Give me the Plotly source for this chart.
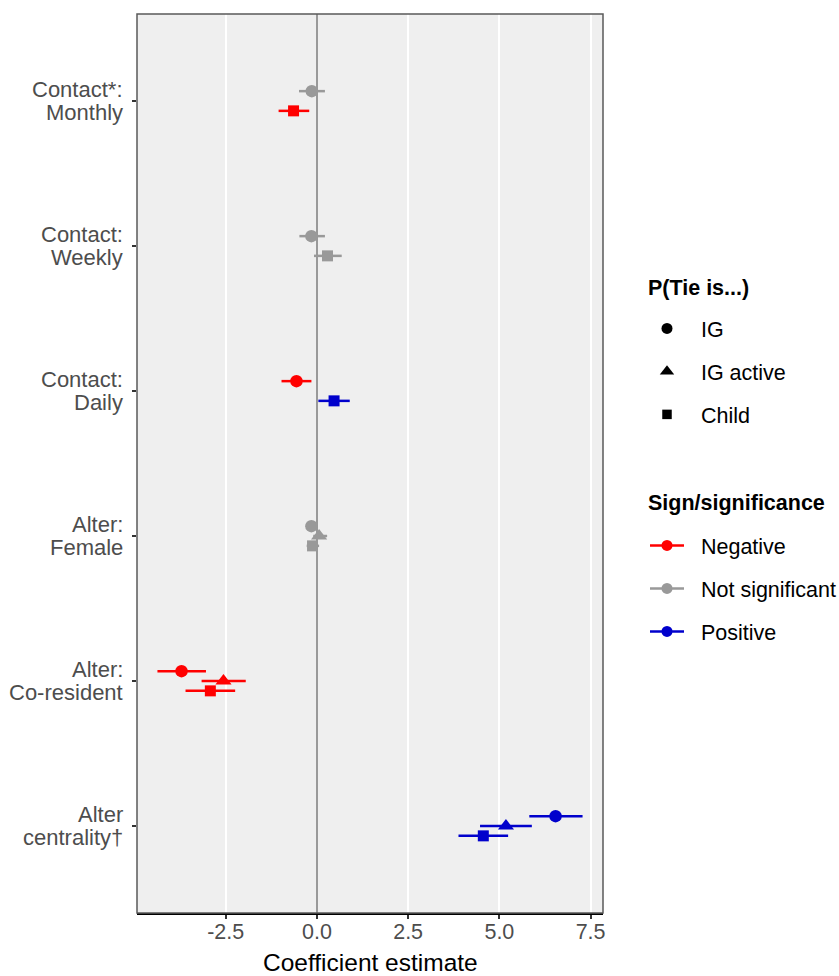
import plotly.graph_objects as go

# ---------------- data ----------------
categories = [["Contact*:", "Monthly"], ["Contact:", "Weekly"], ["Contact:", "Daily"],
              ["Alter:", "Female"], ["Alter:", "Co-resident"], ["Alter", "centrality†"]]

ig_est = [-0.14, -0.15, -0.56, -0.15, -3.71, 6.54]
ig_lo = [-0.49, -0.48, -0.97, -0.30, -4.37, 5.82]
ig_hi = [0.22, 0.22, -0.15, 0.03, -3.04, 7.28]
ig_sign = ["Not significant", "Not significant", "Negative", "Not significant", "Negative", "Positive"]

act_est = [None, None, None, 0.06, -2.56, 5.18]
act_lo = [None, None, None, -0.10, -3.16, 4.47]
act_hi = [None, None, None, 0.28, -1.95, 5.89]
act_sign = [None, None, None, "Not significant", "Negative", "Positive"]

child_est = [-0.64, 0.29, 0.47, -0.12, -2.92, 4.56]
child_lo = [-1.05, -0.08, 0.04, -0.28, -3.60, 3.88]
child_hi = [-0.21, 0.68, 0.90, 0.06, -2.24, 5.24]
child_sign = ["Negative", "Not significant", "Positive", "Not significant", "Negative", "Positive"]

outcomes = ["IG", "IG active", "Child"]
signs = ["Negative", "Not significant", "Positive"]
x_ticks = [-2.5, 0.0, 2.5, 5.0, 7.5]
x_ticktext = ["-2.5", "0.0", "2.5", "5.0", "7.5"]
x_title = "Coefficient estimate"
legend1_title = "P(Tie is...)"
legend2_title = "Sign/significance"

# ---------------- styles ----------------
FONT = "Liberation Sans, Arial, Helvetica, sans-serif"
FS = 21.5
NB = "\u00a0\u00a0"
sign_color = {"Negative": "#FF0000", "Not significant": "#999999", "Positive": "#0000CC"}
symbol = {"IG": "circle", "IG active": "triangle-up", "Child": "square"}
msize = {"IG": 12.5, "IG active": 14, "Child": 11}
dodge = {"IG": -0.068, "IG active": 0.0, "Child": 0.068}

series = {
    "IG": (ig_est, ig_lo, ig_hi, ig_sign),
    "IG active": (act_est, act_lo, act_hi, act_sign),
    "Child": (child_est, child_lo, child_hi, child_sign),
}

fig = go.Figure()

for oc in outcomes:
    est, lo, hi, sg = series[oc]
    for s in signs:
        xs, ys, ep, em = [], [], [], []
        for i in range(len(categories)):
            if est[i] is None or sg[i] != s:
                continue
            xs.append(est[i])
            ys.append(i + dodge[oc])
            ep.append(hi[i] - est[i])
            em.append(est[i] - lo[i])
        if not xs:
            continue
        fig.add_trace(go.Scatter(
            x=xs, y=ys, mode="markers",
            marker=dict(symbol=symbol[oc], size=msize[oc], color=sign_color[s],
                        line=dict(width=0)),
            error_x=dict(type="data", symmetric=False, array=ep, arrayminus=em,
                         color=sign_color[s], thickness=2.5, width=0),
            showlegend=False, hoverinfo="x+y",
        ))

# legend 1: shapes
for k, oc in enumerate(outcomes):
    fig.add_trace(go.Scatter(
        x=[None], y=[None], mode="markers", name=NB + oc,
        marker=dict(symbol=symbol[oc], size=msize[oc] - 1.5, color="black"),
        legend="legend", legendgroup="a%d" % k, showlegend=True,
    ))
# legend 2: colours
for k, s in enumerate(signs):
    fig.add_trace(go.Scatter(
        x=[None], y=[None], mode="lines+markers", name=NB + s,
        marker=dict(symbol="circle", size=11, color=sign_color[s]),
        line=dict(color=sign_color[s], width=2.5),
        legend="legend2", legendgroup="b%d" % k, showlegend=True,
    ))

# panel border
fig.add_shape(type="rect", xref="x domain", yref="y domain", x0=0, x1=1, y0=0, y1=1,
              line=dict(color="#5a5a5a", width=1.5), fillcolor="rgba(0,0,0,0)", layer="above")

# y category labels (two lines each, right aligned)
for i, (l1, l2) in enumerate(categories):
    for line, shift in ((l1, 11.5), (l2, -11.5)):
        fig.add_annotation(x=0, xref="paper", y=i, yref="y", text=line, showarrow=False,
                           xanchor="right", yanchor="middle", xshift=-12, yshift=shift,
                           font=dict(family=FONT, size=22, color="#4D4D4D"))

# x-axis title
fig.add_annotation(x=0.5, xref="paper", y=0, yref="paper", text=x_title, showarrow=False,
                   xanchor="center", yanchor="middle", yshift=-49,
                   font=dict(family=FONT, size=24.5, color="black"))

# legend titles
PX = 1.0 / 466.0
PY = 1.0 / 899.0
fig.add_annotation(x=1 + (646 - 603) * PX, xref="paper", y=1 - (288 - 14) * PY, yref="paper",
                   text="<b>%s</b>" % legend1_title, showarrow=False,
                   xanchor="left", yanchor="middle",
                   font=dict(family=FONT, size=FS, color="black"))
fig.add_annotation(x=1 + (646 - 603) * PX, xref="paper", y=1 - (503 - 14) * PY, yref="paper",
                   text="<b>%s</b>" % legend2_title, showarrow=False,
                   xanchor="left", yanchor="middle",
                   font=dict(family=FONT, size=FS, color="black"))

legend_common = dict(
    xanchor="left", yanchor="top", bgcolor="rgba(0,0,0,0)",
    font=dict(family=FONT, size=FS, color="black"),
    tracegroupgap=12, itemclick=False, itemdoubleclick=False,
    itemwidth=34,
)

fig.update_layout(
    width=839, height=976,
    margin=dict(l=137, r=236, t=14, b=63, autoexpand=False),
    paper_bgcolor="white", plot_bgcolor="#EFEFEF",
    font=dict(family=FONT, size=FS, color="#4D4D4D"),
    xaxis=dict(
        range=[-4.93, 7.84], tickvals=x_ticks, ticktext=x_ticktext,
        showgrid=True, gridcolor="white", gridwidth=1.6,
        zeroline=True, zerolinecolor="#999999", zerolinewidth=2,
        showline=True, linecolor="black", linewidth=1.5,
        ticks="outside", ticklen=4, tickwidth=1.5, tickcolor="#333333",
        ticklabelstandoff=-6, automargin=False,
        tickfont=dict(family=FONT, size=FS, color="#4D4D4D"),
    ),
    yaxis=dict(
        range=[5.6, -0.6], tickvals=list(range(len(categories))),
        showticklabels=False, showgrid=False, zeroline=False, automargin=False,
        ticks="outside", ticklen=4, tickwidth=1.5, tickcolor="#333333",
    ),
    legend=dict(x=1 + (645 - 603) * PX, y=1 - (308 - 14) * PY, **legend_common),
    legend2=dict(x=1 + (645 - 603) * PX, y=1 - (525 - 14) * PY, **legend_common),
)

fig.write_html("out.html",
               config={"displayModeBar": False},
               post_script="document.body.style.margin='0px';document.body.style.overflow='hidden';")
